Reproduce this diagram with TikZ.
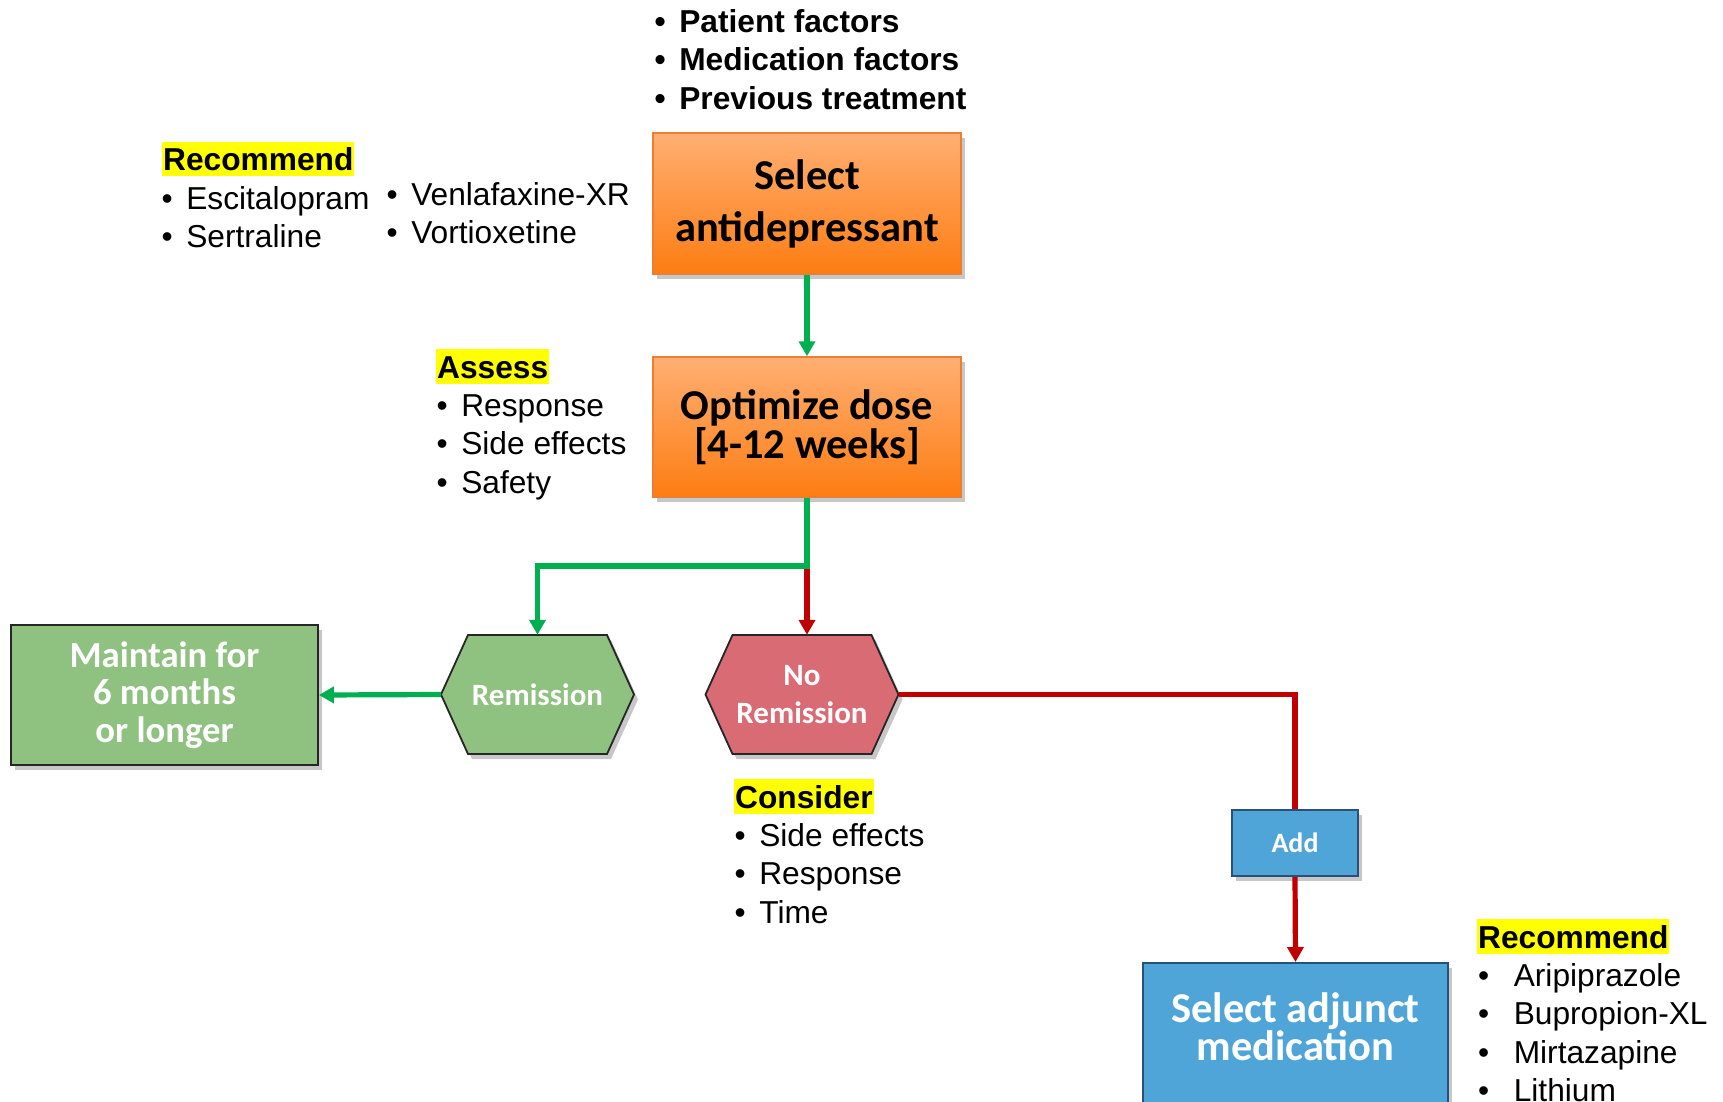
\documentclass[tikz,border=0pt]{standalone}
\usepackage{fontspec}
\setmainfont{Liberation Sans}
\newfontfamily\calfont{Carlito}
\usetikzlibrary{arrows.meta,calc,shadows}
\definecolor{cgreen}{RGB}{0,176,80}
\definecolor{cred}{RGB}{192,0,0}
\definecolor{otop}{RGB}{255,175,115}
\definecolor{obot}{RGB}{253,125,18}
\definecolor{oborder}{RGB}{237,125,49}
\definecolor{gfill}{RGB}{143,193,128}
\definecolor{rfill}{RGB}{217,107,117}
\definecolor{bfill}{RGB}{79,165,216}
\definecolor{bborder}{RGB}{40,80,120}
\definecolor{hlyellow}{RGB}{255,255,0}
\newcommand{\hexpath}[1]{($(#1)+(-96.5,0)$) -- ($(#1)+(-69.5,-59.5)$) -- ($(#1)+(69.5,-59.5)$) -- ($(#1)+(96.5,0)$) -- ($(#1)+(69.5,59.5)$) -- ($(#1)+(-69.5,59.5)$) -- cycle}
\newcommand{\bl}[2]{\begin{tabular}[t]{@{}l@{\hspace{#1}}l@{}}#2\end{tabular}}
\newcommand{\tightlines}{\lineskiplimit=-1000pt\relax}
\begin{document}
\begin{tikzpicture}[x=1pt,y=-1pt,
  shad/.style={drop shadow={shadow xshift=4pt,shadow yshift=-5pt,opacity=0.22,fill=black}},
  boxbase/.style={inner sep=0pt, align=center, shad,
    font=\calfont\bfseries\fontsize{42.5}{52}\selectfont},
  obox/.style={boxbase, draw=oborder, line width=1.5pt, top color=otop, bottom color=obot, text=black},
  gbox/.style={boxbase, draw=black!85, line width=1.8pt, fill=gfill, text=white},
  bbox/.style={boxbase, draw=bborder, line width=1.8pt, fill=bfill, text=white},
  hexnode/.style={inner sep=0pt, minimum width=193pt, minimum height=119pt, align=center, text=white,
    font=\calfont\bfseries\fontsize{31}{38}\selectfont},
  hexdraw/.style={draw=black!85, line width=1.8pt},
  lst/.style={inner sep=0pt, anchor=base west, font=\fontsize{31.7}{38.5}\selectfont},
  hl/.style={fill=hlyellow, inner xsep=1pt, inner ysep=0pt, minimum height=34.5pt, text height=23pt,
    text depth=0pt, anchor=west, font=\bfseries\fontsize{31.7}{38.5}\selectfont},
  gline/.style={draw=cgreen, line width=5.2pt, -{Triangle[length=15pt,width=16pt]}},
  rline/.style={draw=cred, line width=5.2pt, -{Triangle[length=15pt,width=16pt]}},
  rplain/.style={draw=cred, line width=5.2pt}
]
\useasboundingbox (0,0) rectangle (1723,1101);
\fill[white] (0,0) rectangle (1723,1101);
\clip (0,0) rectangle (1723,1101);

% top list
\node[lst, font=\bfseries\fontsize{31.7}{38.5}\selectfont] (factors) at (654.5,32)
  {\bl{13.5pt}{•&Patient factors\\•&Medication factors\\•&Previous treatment}};

% boxes
\node[obox, minimum width=308pt, minimum height=141pt] (sel) at (807,203.5) {\tightlines Select\\antidepressant};
\node[obox, minimum width=308pt, minimum height=140pt,
  font=\calfont\bfseries\fontsize{42.5}{37}\selectfont] (opt) at (807,427)
  {\tightlines Optimize dose\\{}[4-12 weeks]};
\node[gbox, minimum width=307pt, minimum height=140pt,
  font=\calfont\bfseries\fontsize{36.7}{37.4}\selectfont] (main) at (164.5,695)
  {\tightlines Maintain for\\6 months\\or longer};

% hexagons
\coordinate (remc) at (537.5,694.5);
\coordinate (remsh) at (541.5,699.5);
\coordinate (nrc) at (802,694.5);
\coordinate (nrsh) at (806,699.5);
\fill[black, opacity=0.22] \hexpath{remsh};
\fill[black, opacity=0.22] \hexpath{nrsh};
\draw[hexdraw, fill=gfill] \hexpath{remc};
\draw[hexdraw, fill=rfill] \hexpath{nrc};
\node[hexnode] (rem) at (remc) {Remission};
\node[hexnode] (nr) at (nrc) {\tightlines No\\Remission};

% blue boxes
\node[bbox, minimum width=126pt, minimum height=66pt,
  font=\calfont\bfseries\fontsize{28}{34}\selectfont] (add) at (1295,843) {Add};
\node[bbox, minimum width=305pt, minimum height=200pt, anchor=north] (adj) at (1295.5,962) {};
\node[inner sep=0pt, align=center, text=white,
  font=\calfont\bfseries\fontsize{42.5}{36}\selectfont] (adjtext) at (1295.5,1027)
  {\tightlines Select adjunct\\medication};

% connectors
\coordinate (split) at (807,566);
\draw[gline] (sel.south) -- (opt.north);
\draw[rline] (split) -- (split |- nr.north);
\draw[gline] (opt.south) -- (split) -| (rem.north);
\draw[gline] (rem.west) -- (main.east);
\draw[rplain] (nr.east) -| (add.north);
\draw[rline] (add.south) -- (adj.north);

% annotations
\node[hl] (rech1) at (162,159) {Recommend};
\node[lst] (rec1l) at (161.5,209) {\bl{13.5pt}{•&Escitalopram\\•&Sertraline}};
\node[lst] (rec1r) at (386.5,205) {\bl{13.5pt}{•&Venlafaxine-XR\\•&Vortioxetine}};

\node[hl] (assh) at (436,366.5) {Assess};
\node[lst] (assl) at (436.5,416) {\bl{13.5pt}{•&Response\\•&Side effects\\•&Safety}};

\node[hl] (conh) at (734,796.5) {Consider};
\node[lst] (conl) at (734.5,846) {\bl{13.5pt}{•&Side effects\\•&Response\\•&Time}};

\node[hl] (rech2) at (1477,936.5) {Recommend};
\node[lst] (rec2l) at (1478,986) {\bl{24.5pt}{•&Aripiprazole\\•&Bupropion-XL\\•&Mirtazapine\\•&Lithium}};
\end{tikzpicture}
\end{document}
